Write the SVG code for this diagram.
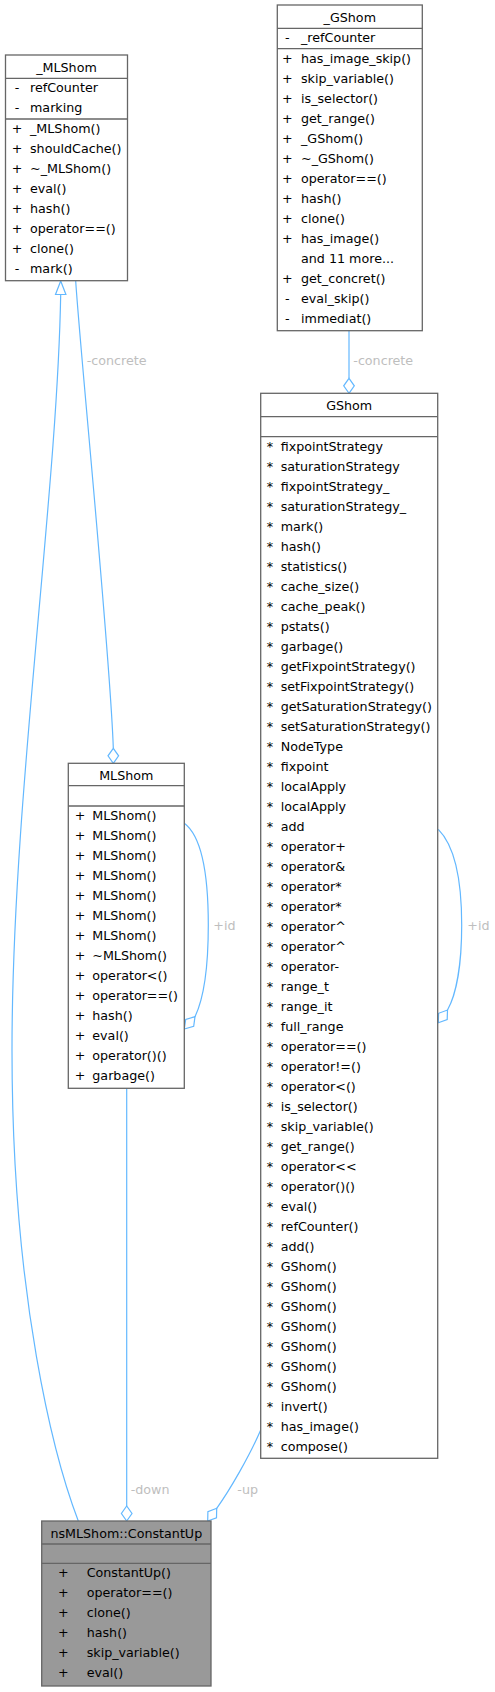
<svg xmlns="http://www.w3.org/2000/svg" width="495" height="1692" viewBox="0 0 495 1692">
<style>
text{font-family:"DejaVu Sans","Liberation Sans",sans-serif;font-size:12.7px;fill:#000}
.box{fill:#fff;stroke:#666;stroke-width:1.3}
.cur{fill:#999;stroke:#666;stroke-width:1.3}
.sep{stroke:#666;stroke-width:1.3}
.t{text-anchor:middle}
.e{fill:none;stroke:#63B8FF;stroke-width:1.2}
.ah{fill:#fff;stroke:#63B8FF;stroke-width:1.2}
.lbl{fill:#BEBEBE}
</style>
<rect width="495" height="1692" fill="#fff"/>

<g id="edges">
  <!-- inheritance ConstantUp -> _MLShom -->
  <path class="e" d="M60.7,294.5 C57,500 12,800 12,1050 C12,1300 55,1460 78.3,1521"/>
  <polygon class="ah" points="60.7,281 55.5,294.5 65.9,294.5"/>
  <!-- -concrete _MLShom -> MLShom -->
  <path class="e" d="M75.7,281 C80,350 110,650 113.3,748"/>
  <polygon class="ah" points="113.3,763.3 118.6,755.8 113.3,748.3 108,755.8"/>
  <text class="lbl" x="86.7" y="365">-concrete</text>
  <!-- -concrete _GShom -> GShom -->
  <path class="e" d="M349,331 L349,378"/>
  <polygon class="ah" points="349,393.3 354.3,385.8 349,378.3 343.7,385.8"/>
  <text class="lbl" x="353.3" y="365">-concrete</text>
  <!-- +id MLShom self loop -->
  <path class="e" d="M184.3,823.3 C200,835 208.3,870 208.3,925 C208.3,970 203,1000 195,1016.7"/>
  <polygon class="ah" points="184.3,1029 193.7,1026.4 195,1016.7 185.7,1019.4"/>
  <text class="lbl" x="213.3" y="929.5">+id</text>
  <!-- +id GShom self loop -->
  <path class="e" d="M438.3,829.3 C454,845 461.7,875 461.7,925 C461.7,965 456,995 447.5,1010"/>
  <polygon class="ah" points="438.3,1022.7 447.2,1019.5 447.5,1010 438.6,1013.3"/>
  <text class="lbl" x="467.3" y="929.5">+id</text>
  <!-- -down MLShom -> ConstantUp -->
  <path class="e" d="M126.7,1088.3 L126.7,1506"/>
  <polygon class="ah" points="126.7,1521 132,1513.5 126.7,1506 121.4,1513.5"/>
  <text class="lbl" x="130.7" y="1493.8">-down</text>
  <!-- -up GShom -> ConstantUp -->
  <path class="e" d="M260.7,1430 C250,1455 230,1490 216.7,1508.3"/>
  <polygon class="ah" points="207.7,1521 216.5,1517.8 216.7,1508.3 207.9,1511.6"/>
  <text class="lbl" x="237.3" y="1493.8">-up</text>
</g>

<g id="node_MLShom_base">
  <rect class="box" x="5.5" y="55" width="122" height="225.7"/>
  <line class="sep" x1="5.5" y1="78.3" x2="127.5" y2="78.3"/>
  <line class="sep" x1="5.5" y1="119" x2="127.5" y2="119"/>
  <text class="t" x="66.5" y="71.5">_MLShom</text>
  <text class="t" x="17" y="92">-</text><text x="30" y="92">refCounter</text>
  <text class="t" x="17" y="112">-</text><text x="30" y="112">marking</text>
  <text class="t" x="17" y="133">+</text><text x="30" y="133">_MLShom()</text>
  <text class="t" x="17" y="153">+</text><text x="30" y="153">shouldCache()</text>
  <text class="t" x="17" y="173">+</text><text x="30" y="173">~_MLShom()</text>
  <text class="t" x="17" y="193">+</text><text x="30" y="193">eval()</text>
  <text class="t" x="17" y="213">+</text><text x="30" y="213">hash()</text>
  <text class="t" x="17" y="233">+</text><text x="30" y="233">operator==()</text>
  <text class="t" x="17" y="253">+</text><text x="30" y="253">clone()</text>
  <text class="t" x="17" y="273">-</text><text x="30" y="273">mark()</text>
</g>

<g id="node_GShom_base">
  <rect class="box" x="277.3" y="5" width="145" height="325.7"/>
  <line class="sep" x1="277.3" y1="28.3" x2="422.3" y2="28.3"/>
  <line class="sep" x1="277.3" y1="48.6" x2="422.3" y2="48.6"/>
  <text class="t" x="349.8" y="21.5">_GShom</text>
  <text class="t" x="287.3" y="42.3">-</text><text x="301" y="42.3">_refCounter</text>
  <text class="t" x="287.3" y="62.6">+</text><text x="301" y="62.6">has_image_skip()</text>
  <text class="t" x="287.3" y="82.6">+</text><text x="301" y="82.6">skip_variable()</text>
  <text class="t" x="287.3" y="102.6">+</text><text x="301" y="102.6">is_selector()</text>
  <text class="t" x="287.3" y="122.6">+</text><text x="301" y="122.6">get_range()</text>
  <text class="t" x="287.3" y="142.6">+</text><text x="301" y="142.6">_GShom()</text>
  <text class="t" x="287.3" y="162.6">+</text><text x="301" y="162.6">~_GShom()</text>
  <text class="t" x="287.3" y="182.6">+</text><text x="301" y="182.6">operator==()</text>
  <text class="t" x="287.3" y="202.6">+</text><text x="301" y="202.6">hash()</text>
  <text class="t" x="287.3" y="222.6">+</text><text x="301" y="222.6">clone()</text>
  <text class="t" x="287.3" y="242.6">+</text><text x="301" y="242.6">has_image()</text>
  <text x="301" y="262.6">and 11 more...</text>
  <text class="t" x="287.3" y="282.6">+</text><text x="301" y="282.6">get_concret()</text>
  <text class="t" x="287.3" y="302.6">-</text><text x="301" y="302.6">eval_skip()</text>
  <text class="t" x="287.3" y="322.6">-</text><text x="301" y="322.6">immediat()</text>
</g>

<g id="node_GShom">
  <rect class="box" x="260.7" y="393.3" width="177" height="1065"/>
  <line class="sep" x1="260.7" y1="416.7" x2="437.7" y2="416.7"/>
  <line class="sep" x1="260.7" y1="436.7" x2="437.7" y2="436.7"/>
  <text class="t" x="349.2" y="409.8">GShom</text>
  <g class="rows">
  <text class="t" x="270" y="450.7">*</text><text x="280.7" y="450.7">fixpointStrategy</text>
  <text class="t" x="270" y="470.7">*</text><text x="280.7" y="470.7">saturationStrategy</text>
  <text class="t" x="270" y="490.7">*</text><text x="280.7" y="490.7">fixpointStrategy_</text>
  <text class="t" x="270" y="510.7">*</text><text x="280.7" y="510.7">saturationStrategy_</text>
  <text class="t" x="270" y="530.7">*</text><text x="280.7" y="530.7">mark()</text>
  <text class="t" x="270" y="550.7">*</text><text x="280.7" y="550.7">hash()</text>
  <text class="t" x="270" y="570.7">*</text><text x="280.7" y="570.7">statistics()</text>
  <text class="t" x="270" y="590.7">*</text><text x="280.7" y="590.7">cache_size()</text>
  <text class="t" x="270" y="610.7">*</text><text x="280.7" y="610.7">cache_peak()</text>
  <text class="t" x="270" y="630.7">*</text><text x="280.7" y="630.7">pstats()</text>
  <text class="t" x="270" y="650.7">*</text><text x="280.7" y="650.7">garbage()</text>
  <text class="t" x="270" y="670.7">*</text><text x="280.7" y="670.7">getFixpointStrategy()</text>
  <text class="t" x="270" y="690.7">*</text><text x="280.7" y="690.7">setFixpointStrategy()</text>
  <text class="t" x="270" y="710.7">*</text><text x="280.7" y="710.7">getSaturationStrategy()</text>
  <text class="t" x="270" y="730.7">*</text><text x="280.7" y="730.7">setSaturationStrategy()</text>
  <text class="t" x="270" y="750.7">*</text><text x="280.7" y="750.7">NodeType</text>
  <text class="t" x="270" y="770.7">*</text><text x="280.7" y="770.7">fixpoint</text>
  <text class="t" x="270" y="790.7">*</text><text x="280.7" y="790.7">localApply</text>
  <text class="t" x="270" y="810.7">*</text><text x="280.7" y="810.7">localApply</text>
  <text class="t" x="270" y="830.7">*</text><text x="280.7" y="830.7">add</text>
  <text class="t" x="270" y="850.7">*</text><text x="280.7" y="850.7">operator+</text>
  <text class="t" x="270" y="870.7">*</text><text x="280.7" y="870.7">operator&amp;</text>
  <text class="t" x="270" y="890.7">*</text><text x="280.7" y="890.7">operator*</text>
  <text class="t" x="270" y="910.7">*</text><text x="280.7" y="910.7">operator*</text>
  <text class="t" x="270" y="930.7">*</text><text x="280.7" y="930.7">operator^</text>
  <text class="t" x="270" y="950.7">*</text><text x="280.7" y="950.7">operator^</text>
  <text class="t" x="270" y="970.7">*</text><text x="280.7" y="970.7">operator-</text>
  <text class="t" x="270" y="990.7">*</text><text x="280.7" y="990.7">range_t</text>
  <text class="t" x="270" y="1010.7">*</text><text x="280.7" y="1010.7">range_it</text>
  <text class="t" x="270" y="1030.7">*</text><text x="280.7" y="1030.7">full_range</text>
  <text class="t" x="270" y="1050.7">*</text><text x="280.7" y="1050.7">operator==()</text>
  <text class="t" x="270" y="1070.7">*</text><text x="280.7" y="1070.7">operator!=()</text>
  <text class="t" x="270" y="1090.7">*</text><text x="280.7" y="1090.7">operator&lt;()</text>
  <text class="t" x="270" y="1110.7">*</text><text x="280.7" y="1110.7">is_selector()</text>
  <text class="t" x="270" y="1130.7">*</text><text x="280.7" y="1130.7">skip_variable()</text>
  <text class="t" x="270" y="1150.7">*</text><text x="280.7" y="1150.7">get_range()</text>
  <text class="t" x="270" y="1170.7">*</text><text x="280.7" y="1170.7">operator&lt;&lt;</text>
  <text class="t" x="270" y="1190.7">*</text><text x="280.7" y="1190.7">operator()()</text>
  <text class="t" x="270" y="1210.7">*</text><text x="280.7" y="1210.7">eval()</text>
  <text class="t" x="270" y="1230.7">*</text><text x="280.7" y="1230.7">refCounter()</text>
  <text class="t" x="270" y="1250.7">*</text><text x="280.7" y="1250.7">add()</text>
  <text class="t" x="270" y="1270.7">*</text><text x="280.7" y="1270.7">GShom()</text>
  <text class="t" x="270" y="1290.7">*</text><text x="280.7" y="1290.7">GShom()</text>
  <text class="t" x="270" y="1310.7">*</text><text x="280.7" y="1310.7">GShom()</text>
  <text class="t" x="270" y="1330.7">*</text><text x="280.7" y="1330.7">GShom()</text>
  <text class="t" x="270" y="1350.7">*</text><text x="280.7" y="1350.7">GShom()</text>
  <text class="t" x="270" y="1370.7">*</text><text x="280.7" y="1370.7">GShom()</text>
  <text class="t" x="270" y="1390.7">*</text><text x="280.7" y="1390.7">GShom()</text>
  <text class="t" x="270" y="1410.7">*</text><text x="280.7" y="1410.7">invert()</text>
  <text class="t" x="270" y="1430.7">*</text><text x="280.7" y="1430.7">has_image()</text>
  <text class="t" x="270" y="1450.7">*</text><text x="280.7" y="1450.7">compose()</text>
  </g>
</g>

<g id="node_MLShom">
  <rect class="box" x="68.3" y="763.3" width="116" height="325"/>
  <line class="sep" x1="68.3" y1="785.7" x2="184.3" y2="785.7"/>
  <line class="sep" x1="68.3" y1="806" x2="184.3" y2="806"/>
  <text class="t" x="126.3" y="779.8">MLShom</text>
  <text class="t" x="80" y="819.5">+</text><text x="92.3" y="819.5">MLShom()</text>
  <text class="t" x="80" y="839.5">+</text><text x="92.3" y="839.5">MLShom()</text>
  <text class="t" x="80" y="859.5">+</text><text x="92.3" y="859.5">MLShom()</text>
  <text class="t" x="80" y="879.5">+</text><text x="92.3" y="879.5">MLShom()</text>
  <text class="t" x="80" y="899.5">+</text><text x="92.3" y="899.5">MLShom()</text>
  <text class="t" x="80" y="919.5">+</text><text x="92.3" y="919.5">MLShom()</text>
  <text class="t" x="80" y="939.5">+</text><text x="92.3" y="939.5">MLShom()</text>
  <text class="t" x="80" y="959.5">+</text><text x="92.3" y="959.5">~MLShom()</text>
  <text class="t" x="80" y="979.5">+</text><text x="92.3" y="979.5">operator&lt;()</text>
  <text class="t" x="80" y="999.5">+</text><text x="92.3" y="999.5">operator==()</text>
  <text class="t" x="80" y="1019.5">+</text><text x="92.3" y="1019.5">hash()</text>
  <text class="t" x="80" y="1039.5">+</text><text x="92.3" y="1039.5">eval()</text>
  <text class="t" x="80" y="1059.5">+</text><text x="92.3" y="1059.5">operator()()</text>
  <text class="t" x="80" y="1079.5">+</text><text x="92.3" y="1079.5">garbage()</text>
</g>

<g id="node_ConstantUp">
  <rect class="cur" x="41.7" y="1521" width="169.3" height="165"/>
  <line class="sep" x1="41.7" y1="1544" x2="211" y2="1544"/>
  <line class="sep" x1="41.7" y1="1563.3" x2="211" y2="1563.3"/>
  <text class="t" x="126.3" y="1537.5">nsMLShom::ConstantUp</text>
  <text class="t" x="63.3" y="1577.2">+</text><text x="86.7" y="1577.2">ConstantUp()</text>
  <text class="t" x="63.3" y="1597.2">+</text><text x="86.7" y="1597.2">operator==()</text>
  <text class="t" x="63.3" y="1617.2">+</text><text x="86.7" y="1617.2">clone()</text>
  <text class="t" x="63.3" y="1637.2">+</text><text x="86.7" y="1637.2">hash()</text>
  <text class="t" x="63.3" y="1657.2">+</text><text x="86.7" y="1657.2">skip_variable()</text>
  <text class="t" x="63.3" y="1677.2">+</text><text x="86.7" y="1677.2">eval()</text>
</g>
</svg>
